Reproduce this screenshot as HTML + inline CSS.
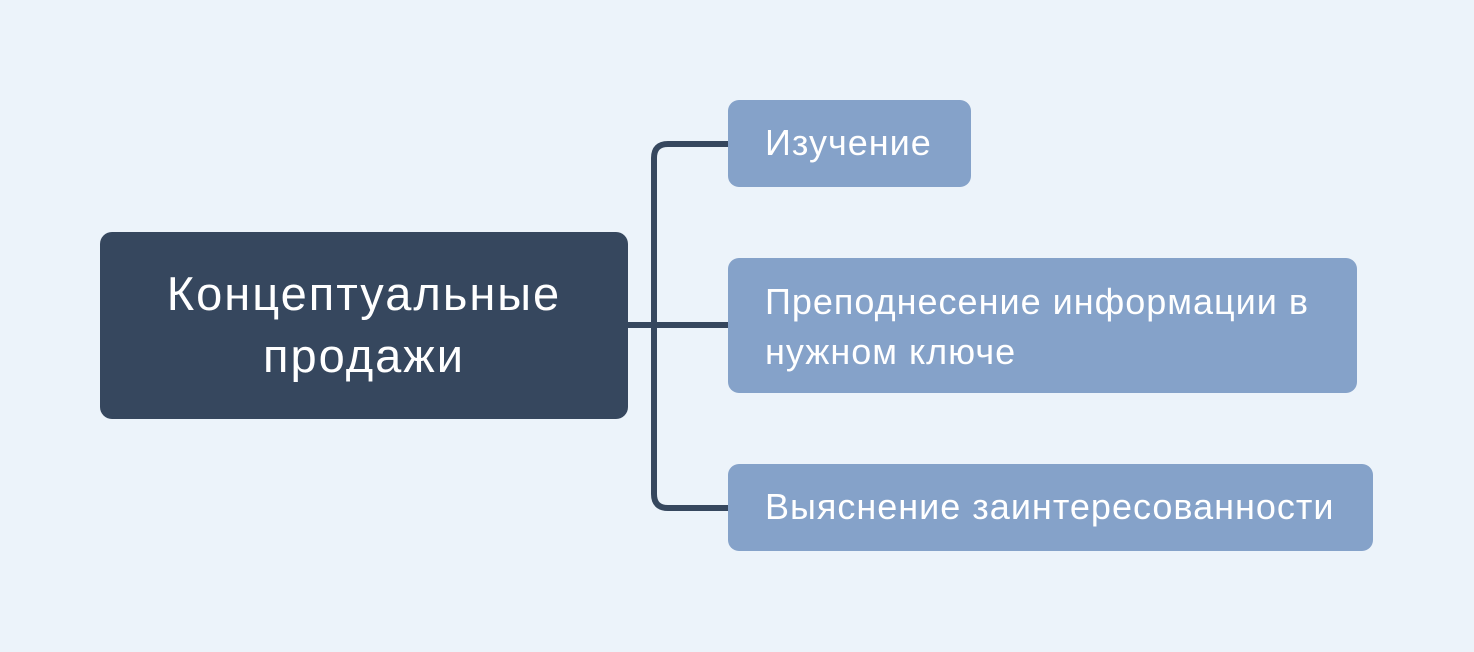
<!DOCTYPE html>
<html><head><meta charset="utf-8"><style>
body{margin:0;width:1474px;height:652px;background:#ECF3FA;position:relative;overflow:hidden;font-family:"Liberation Sans",sans-serif;}
.b{position:absolute;color:#fff;box-sizing:border-box;white-space:nowrap;}
.c{left:100px;top:232px;width:528px;height:187px;background:#36475E;border-radius:12px;font-size:47px;letter-spacing:2px;line-height:62px;text-align:center;padding-top:31px;}
.k{left:728px;background:#85A2C9;border-radius:11px;font-size:36px;letter-spacing:1px;line-height:50px;padding-left:37px;}
</style></head><body>
<svg width="1474" height="652" style="position:absolute;left:0;top:0">
<g fill="none" stroke="#36475E" stroke-width="6">
<path d="M728 144 H668 Q654 144 654 158 V494 Q654 508 668 508 H728"/>
<path d="M626 325 H728"/>
</g></svg>
<div class="b c">Концептуальные<br>продажи</div>
<div class="b k" style="top:100px;width:243px;height:87px;padding-top:18px">Изучение</div>
<div class="b k" style="top:258px;width:629px;height:135px;padding-top:19px">Преподнесение информации в<br>нужном ключе</div>
<div class="b k" style="top:464px;width:645px;height:87px;padding-top:18px">Выяснение заинтересованности</div>
</body></html>
